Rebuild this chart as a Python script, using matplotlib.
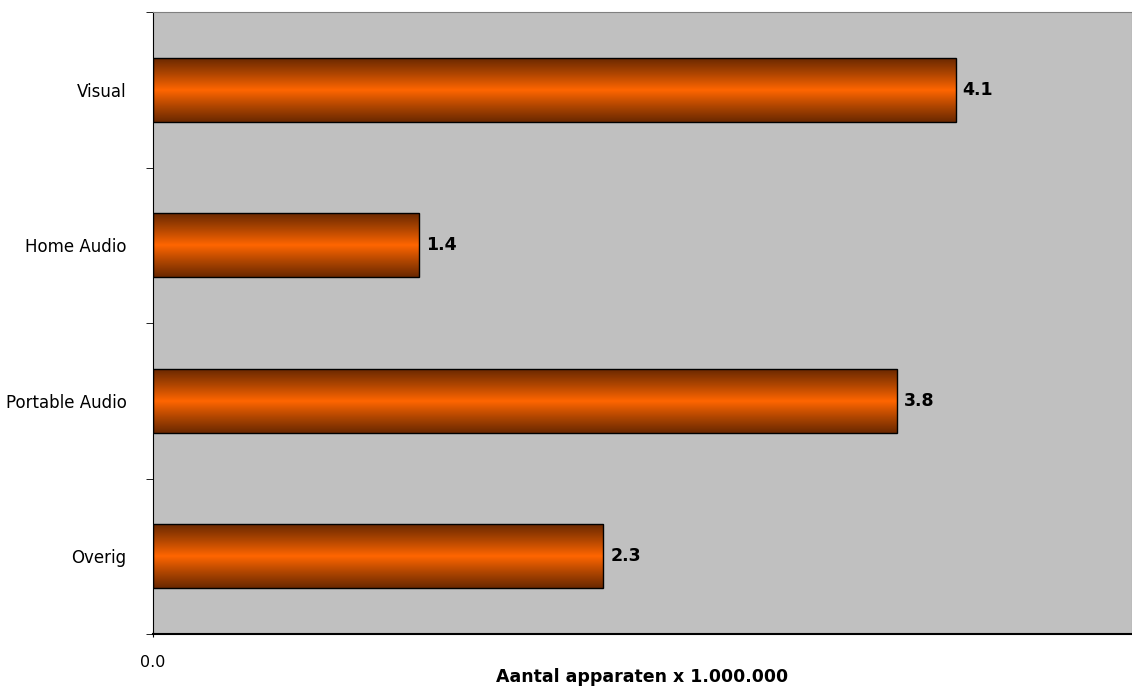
import matplotlib
matplotlib.use("Agg")
import matplotlib.pyplot as plt
import numpy as np
from matplotlib.colors import LinearSegmentedColormap

categories = ["Visual", "Home Audio", "Portable Audio", "Overig"]
values = [4.1, 1.36, 3.8, 2.3]
xlabel = "Aantal apparaten x 1.000.000"

fig = plt.figure(figsize=(11.32, 6.89), dpi=100)
ax = fig.add_axes([153/1132, 1-634/689, 1-153/1132, (634-12)/689])
ax.set_facecolor("#C0C0C0")

y = np.arange(len(categories))
bar_h = 0.41

bars = ax.barh(y, values, height=bar_h, color="none", edgecolor="black", linewidth=1.0, zorder=3)

cmap = LinearSegmentedColormap.from_list("grad", [
    (0.0, "#6A2800"), (0.25, "#B04600"), (0.5, "#FF6600"), (0.75, "#B04600"), (1.0, "#6A2800")])
grad = np.linspace(0, 1, 256).reshape(-1, 1)
for b in bars:
    x0, y0 = b.get_x(), b.get_y()
    w, h = b.get_width(), b.get_height()
    ax.imshow(grad, cmap=cmap, aspect="auto", extent=[x0, x0+w, y0+h, y0],
              zorder=2, interpolation="bilinear")
    ax.text(x0 + w + 0.035, y0 + h/2, f"{w:.1f}", va="center", ha="left",
            fontsize=12.5, fontweight="bold", color="black")
ax.set_xlim(0, 5.0)
ax.set_ylim(len(categories)-0.5, -0.5)

ax.set_yticks(y)
ax.set_yticklabels(categories, fontsize=12)
ax.tick_params(axis="y", which="major", length=0, pad=19)
ax.set_yticks(np.arange(-0.5, len(categories), 1.0), minor=True)
ax.tick_params(axis="y", which="minor", length=5, direction="out", color="black")

ax.set_xticks([0])
ax.set_xticklabels(["0.0"], fontsize=11.5)
ax.tick_params(axis="x", length=5, direction="inout", pad=12.5)
fig.text(0.5 * (153 + 1132) / 1132, 1 - 677/689, xlabel, ha="center", va="center",
         fontsize=12.5, fontweight="bold")

for s in ["top", "right"]:
    ax.spines[s].set_color("#808080")
ax.spines["left"].set_color("black")
ax.spines["bottom"].set_color("black")
ax.spines["bottom"].set_linewidth(1.5)

fig.savefig("out.png", dpi=100, facecolor="white")
